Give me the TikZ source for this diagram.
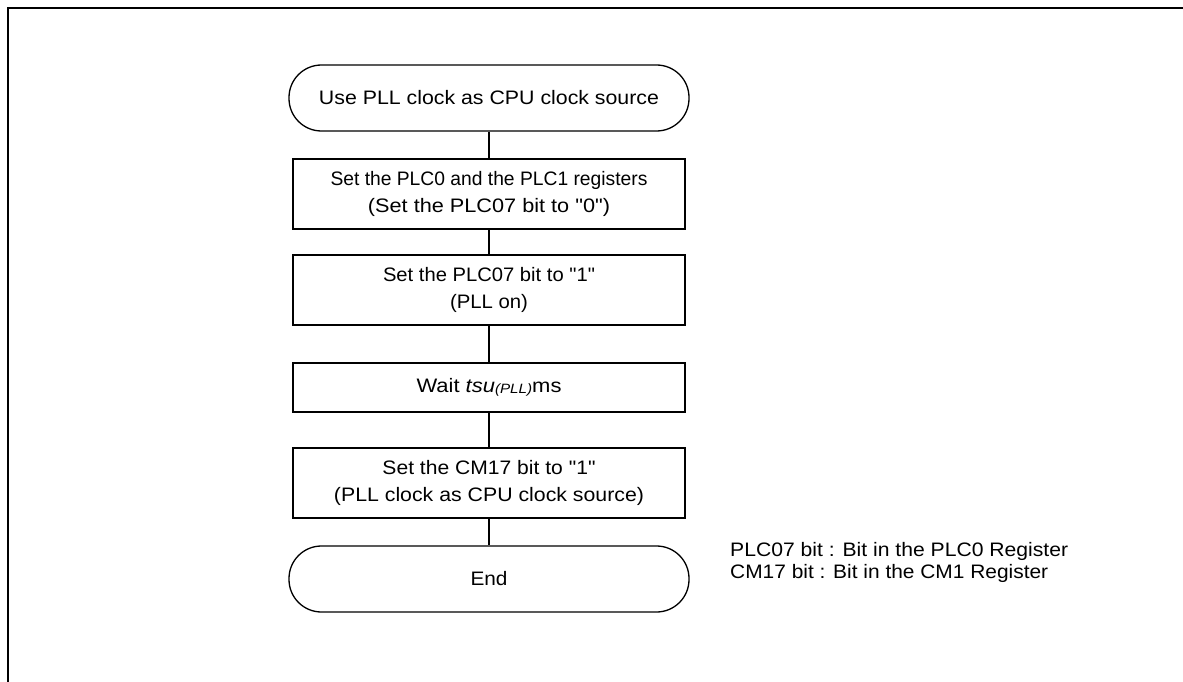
\documentclass[tikz,border=0pt]{standalone}
\usepackage{graphicx}
\usepackage{fontspec}
\setmainfont{Liberation Sans}[Ligatures=TeXOff]
\newcommand\Wd[2]{\resizebox{#1pt}{\height}{#2}}
\begin{document}
\begin{tikzpicture}[x=1pt,y=-1pt,
  every node/.style={font=\fontsize{19.5}{26.5}\selectfont},
  term/.style={draw,line width=1.3pt,rounded corners=32.5pt,minimum width=400pt,minimum height=66pt,inner sep=0pt,align=center},
  stepbox/.style={draw,line width=1.3pt,minimum width=392pt,inner sep=0pt,align=center},
  link/.style={line width=1.3pt},
  note/.style={anchor=base west,inner sep=0pt}]
\useasboundingbox (0,0) rectangle (1183,682);
\draw[line width=2pt] (8,682) -- (8,8) -- (1183,8);
\node[term] (start) at (489,98) {\Wd{340}{Use PLL clock as CPU clock source}};
\node[stepbox,minimum height=70pt] (b1) at (489,194) {\Wd{317}{Set the PLC0 and the PLC1 registers}\\\Wd{242}{(Set the PLC07 bit to "0")}};
\node[stepbox,minimum height=70pt] (b2) at (489,290) {\Wd{212}{Set the PLC07 bit to "1"}\\\Wd{78}{(PLL on)}};
\node[stepbox,minimum height=49pt] (b3) at (489,387.5) {\Wd{145}{Wait \textit{tsu}\raisebox{-1.5pt}{\fontsize{13.5}{13.5}\selectfont\textit{(PLL)}}ms}};
\node[stepbox,minimum height=70pt] (b4) at (489,483) {\Wd{213}{Set the CM17 bit to "1"}\\\Wd{310}{(PLL clock as CPU clock source)}};
\node[term] (end) at (489,579) {\Wd{37}{End}};
\draw[link] (start.south) -- (b1.north);
\draw[link] (b1.south) -- (b2.north);
\draw[link] (b2.south) -- (b3.north);
\draw[link] (b3.south) -- (b4.north);
\draw[link] (b4.south) -- (end.north);
\node[note] (n1) at (730,556) {\Wd{338}{PLC07 bit : Bit in the PLC0 Register}};
\node[note] (n2) at (730,578) {\Wd{318}{CM17 bit : Bit in the CM1 Register}};
\end{tikzpicture}
\end{document}
